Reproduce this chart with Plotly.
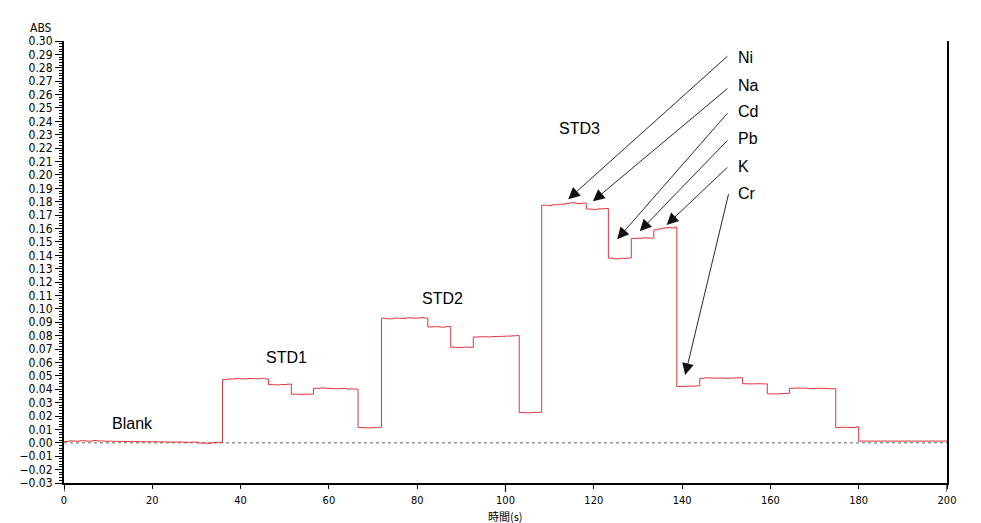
import plotly.graph_objects as go

# signal (time in s, absorbance)
time_s = [0, 1.0, 2.5, 3.5, 5.0, 6.5, 7.5, 9.0, 11, 13, 15, 17, 19, 21, 23, 25, 27, 29, 30.5, 32, 33.5, 34.5,
          35.9, 37, 38.5, 40, 41.5, 43, 44.5, 45.5, 46.3, 47.5, 49, 50.5, 51.5, 53, 54.5,
          56.5, 58, 59.5, 61, 62.5, 64, 65.5, 66.6, 68, 69.5, 71,
          71.9, 73, 74.5, 76, 77.5, 79, 80.5, 81.5, 82.4, 83.5, 85, 86.5, 87.6, 89, 90.5, 91.8,
          92.7, 94, 95.5, 97, 98.5, 100, 101.5, 102.5, 103.1, 104.5, 106, 107.5,
          108.2, 109.5, 110.5, 112, 113.5, 114.5, 116, 117.3, 118.3, 119.5, 121, 122.5,
          123.3, 124.5, 126, 127.5, 128.5, 129.5, 131, 132.5, 133.6, 134.5, 135.5, 136.5, 137.5, 138.3,
          138.8, 140, 141.5, 143, 144.0, 145, 146.5, 148, 149.5, 151, 152.5, 153.7, 155, 156.5, 158,
          159.3, 160.5, 162, 163.5, 164.3, 165.5, 167, 168.5, 170, 171.5, 173,
          174.8, 176, 177.5, 179.5, 180.0, 200]
absorbance = [0.0010, 0.0014, 0.0012, 0.0015, 0.0013, 0.0017, 0.0014, 0.0012, 0.0011, 0.0010, 0.0009, 0.0008,
              0.0008, 0.0007, 0.0006, 0.0006, 0.0004, 0.0005, -0.0002, -0.0003, 0.0001, 0.0003,
              0.0472, 0.0476, 0.0479, 0.0477, 0.0480, 0.0478, 0.0481, 0.0477, 0.0436, 0.0433, 0.0435, 0.0438,
              0.0363, 0.0362, 0.0363,
              0.0407, 0.0409, 0.0406, 0.0404, 0.0405, 0.0402, 0.0401, 0.0114, 0.0112, 0.0113, 0.0116,
              0.0930, 0.0926, 0.0931, 0.0929, 0.0933, 0.0931, 0.0934, 0.0932, 0.0865, 0.0867, 0.0864, 0.0868,
              0.0714, 0.0712, 0.0715, 0.0713,
              0.0790, 0.0792, 0.0791, 0.0794, 0.0795, 0.0797, 0.0799, 0.0801, 0.0226, 0.0224, 0.0227, 0.0228,
              0.1774, 0.1771, 0.1777, 0.1781, 0.1788, 0.1792, 0.1786, 0.1790, 0.1745, 0.1743, 0.1747, 0.1749,
              0.1379, 0.1374, 0.1377, 0.1380, 0.1525, 0.1527, 0.1530, 0.1528,
              0.1590, 0.1597, 0.1603, 0.1608, 0.1604, 0.1611,
              0.0420, 0.0422, 0.0423, 0.0425, 0.0481, 0.0485, 0.0483, 0.0484, 0.0482, 0.0484, 0.0486,
              0.0441, 0.0440, 0.0441, 0.0440,
              0.0366, 0.0365, 0.0367, 0.0369, 0.0407, 0.0409, 0.0408, 0.0405, 0.0407, 0.0406, 0.0404,
              0.0114, 0.0116, 0.0115, 0.0120, 0.0013, 0.0013]

# group labels
group_names = ["Blank", "STD1", "STD2", "STD3"]
group_x = [15.5, 50.4, 85.8, 116.8]
group_y = [0.0142, 0.0634, 0.108, 0.235]

# element labels and where their arrows point
elements = ["Ni", "Na", "Cd", "Pb", "K", "Cr"]
label_y = [0.288, 0.267, 0.247, 0.227, 0.206, 0.186]
tail_y = [0.2896, 0.2654, 0.2473, 0.2269, 0.2067, 0.1868]
head_x = [114.2, 119.8, 125.3, 130.4, 136.5, 140.7]
head_y = [0.1819, 0.1804, 0.1520, 0.1580, 0.1627, 0.0507]
label_x = 152.2
tail_x = 150.6

long_ticks = [0, 100, 200]

fig = go.Figure()
fig.add_trace(go.Scatter(x=[0, 200], y=[0, 0], mode="lines",
                         line=dict(color="#666666", width=1, dash="3px,3px"),
                         hoverinfo="skip"))
fig.add_trace(go.Scatter(x=time_s, y=absorbance, mode="lines", line_shape="hv",
                         line=dict(color="#e0363c", width=1)))

tick_font = dict(family="Liberation Sans Narrow, DejaVu Sans Condensed, sans-serif", size=12, color="black")
xtick_font = dict(tick_font, size=11)
label_font = dict(family="Liberation Sans, Arial, sans-serif", size=16, color="black")

annotations = []
for name, x, y in zip(group_names, group_x, group_y):
    annotations.append(dict(x=x, y=y, text=name, showarrow=False, font=label_font,
                            xanchor="center", yanchor="middle"))
for name, ly in zip(elements, label_y):
    annotations.append(dict(x=label_x, y=ly, text=name, showarrow=False, font=label_font,
                            xanchor="left", yanchor="middle"))
for hx, hy, ty in zip(head_x, head_y, tail_y):
    annotations.append(dict(x=hx, y=hy, ax=tail_x, ay=ty, axref="x", ayref="y", text="",
                            showarrow=True, arrowhead=2, arrowsize=2.6, arrowwidth=0.9,
                            arrowcolor="#111111"))
annotations.append(dict(x=-0.0266, y=1.030, xref="paper", yref="paper", text="ABS", showarrow=False,
                        font=tick_font, xanchor="center", yanchor="middle"))
annotations.append(dict(x=0.5, y=-0.0755, xref="paper", yref="paper", text="時間(s)", showarrow=False,
                        font=dict(family="Noto Sans CJK JP", size=11, color="black"),
                        xanchor="center", yanchor="middle"))

shapes = []
for t in long_ticks:
    shapes.append(dict(type="line", xref="x", yref="paper", x0=t, x1=t, y0=0, y1=-0.02,
                       line=dict(color="black", width=1.2)))

fig.update_layout(
    width=981, height=523,
    margin=dict(l=64, r=34, t=41, b=40),
    paper_bgcolor="white", plot_bgcolor="white",
    showlegend=False,
    annotations=annotations,
    shapes=shapes,
)
fig.update_xaxes(range=[0, 200], dtick=20, tick0=0, ticks="outside", ticklen=4, tickcolor="black",
                 showline=True, linecolor="black", linewidth=2, showgrid=False, zeroline=False,
                 tickfont=xtick_font, ticklabelstandoff=2, automargin=False)
fig.update_yaxes(range=[-0.03, 0.30], dtick=0.01, tick0=0, tickformat=".2f", ticks="outside", ticklen=7,
                 tickcolor="black", showline=True, linecolor="black", linewidth=2, mirror=True,
                 showgrid=False, zeroline=False, tickfont=tick_font, automargin=False,
                 minor=dict(dtick=0.002, ticks="outside", ticklen=3, tickcolor="black"))

# drop the browser's default body margin so the figure sits in the corner
fig.write_html("out.html", config={"displayModeBar": False},
               post_script="document.body.style.margin='0';document.body.style.overflow='hidden';")
